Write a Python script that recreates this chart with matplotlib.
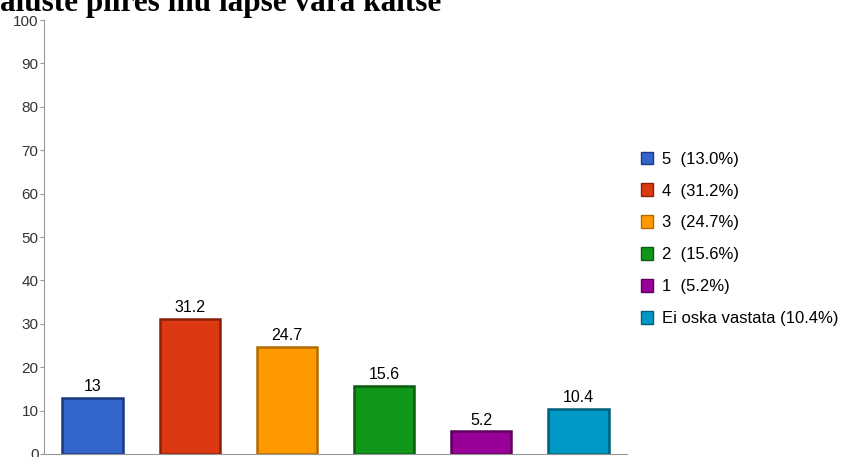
import matplotlib.pyplot as plt
from matplotlib.patches import Patch

categories = ["5", "4", "3", "2", "1", "Ei oska vastata"]
values = [13, 31.2, 24.7, 15.6, 5.2, 10.4]
percents = ["13.0%", "31.2%", "24.7%", "15.6%", "5.2%", "10.4%"]
value_labels = ["13", "31.2", "24.7", "15.6", "5.2", "10.4"]

colors = ["#3366cc", "#dc3912", "#ff9900", "#109618", "#990099", "#0099c6"]
edges = ["#1a3a80", "#8a2008", "#b36b00", "#0a5c0f", "#5c005c", "#005f7a"]

fig = plt.figure(figsize=(8.41, 4.57), dpi=100)
ax = fig.add_axes([0.0523, 0.0066, 0.6932, 0.9496])

x = range(len(categories))
ax.bar(x, values, width=0.62, color=colors, edgecolor=edges, linewidth=1.8)
for i, v in enumerate(values):
    ax.text(i, v + 0.9, value_labels[i], ha="center", va="bottom",
            fontsize=11.5, family="Liberation Sans")

ax.set_xlim(-0.5, 5.5)
ax.set_ylim(0, 100)
ax.set_yticks(range(0, 101, 10))
ax.set_xticks([])
for s in ["top", "right"]:
    ax.spines[s].set_visible(False)
ax.spines["left"].set_color("#999999")
ax.spines["bottom"].set_color("#999999")
ax.tick_params(axis="y", length=3, color="#999999", pad=1, labelsize=11)
for lab in ax.get_yticklabels():
    lab.set_family("Liberation Sans")
    lab.set_color("#333333")

handles = [Patch(facecolor=c, edgecolor=e, linewidth=1) for c, e in zip(colors, edges)]
labels = []
for c, p in zip(categories, percents):
    if len(c) == 1:
        labels.append(f"{c}  ({p})")
    else:
        labels.append(f"{c} ({p})")
fig.legend(handles, labels, loc="upper left", bbox_to_anchor=(0.7443, 0.701),
           frameon=False, handlelength=0.75, handleheight=0.8, handletextpad=0.5,
           labelspacing=1.0, prop={"family": "Liberation Sans", "size": 12})

fig.text(0.0, (457 - 11) / 457, "aluste piires mu lapse vara kaitse", ha="left",
         va="baseline", fontsize=22.5, fontweight="bold", family="Liberation Serif")

fig.savefig("out.png", dpi=100)
